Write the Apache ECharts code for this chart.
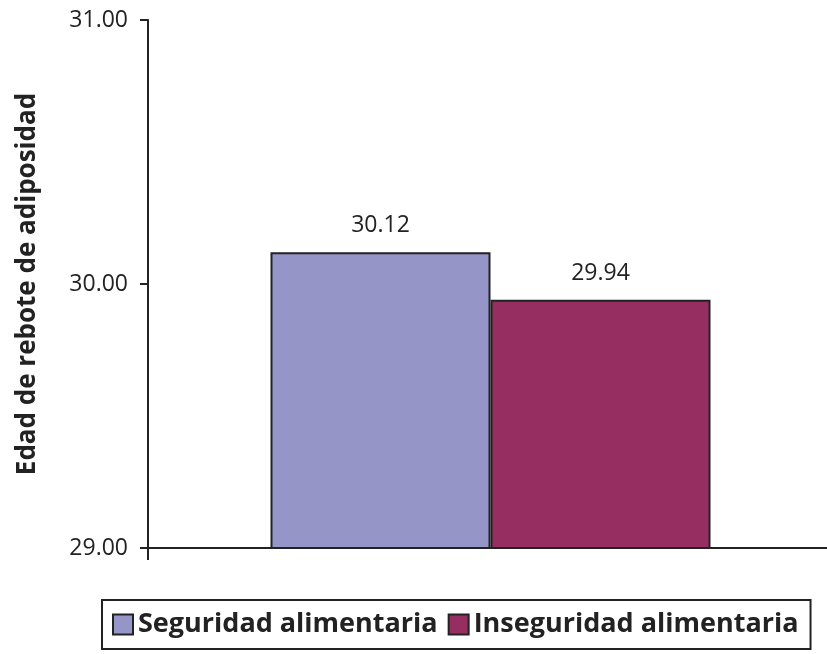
<!DOCTYPE html>
<html>
<head>
<meta charset="utf-8">
<script src="https://cdn.jsdelivr.net/npm/echarts@6/dist/echarts.min.js"></script>
<style>
  html, body { margin: 0; padding: 0; background: #fff; }
  #chart { width: 827px; height: 654px; }
</style>
</head>
<body>
<div id="chart"></div>
<script>
// Edad de rebote de adiposidad por condición de seguridad alimentaria
const categories = [''];
const seriesNames = ['Seguridad alimentaria', 'Inseguridad alimentaria'];
const seguridad = [30.12];
const inseguridad = [29.94];
const yTicks = [29, 30, 31];

const FONT = '"Open Sans", "Liberation Sans", sans-serif';
const INK = '#222222';

const chart = echarts.init(document.getElementById('chart'));

const labelOpt = {
  show: true,
  position: 'top',
  distance: 15,
  color: INK,
  fontFamily: FONT,
  fontSize: 23,
  formatter: p => p.value.toFixed(2)
};

chart.setOption({
  animation: false,
  grid: {
    left: 148, right: -6, top: 20, bottom: 106,
    containLabel: false,
    outerBoundsMode: 'none'
  },
  legend: {
    left: 102,
    top: 600,
    padding: [11, 12, 11, 10],
    itemGap: 10,
    itemWidth: 20,
    itemHeight: 20,
    icon: 'rect',
    borderColor: INK,
    borderWidth: 2,
    textStyle: { fontFamily: FONT, fontSize: 27, fontWeight: 'bold', color: INK },
    data: seriesNames
  },
  xAxis: {
    type: 'category',
    data: categories,
    axisLine: { lineStyle: { color: INK, width: 2 } },
    axisTick: { show: true, length: 12, lineStyle: { color: INK, width: 2 } },
    axisLabel: { show: false },
    splitLine: { show: false }
  },
  yAxis: {
    type: 'value',
    min: yTicks[0],
    max: yTicks[yTicks.length - 1],
    interval: 1,
    name: 'Edad de rebote de adiposidad',
    nameLocation: 'middle',
    nameGap: 107,
    nameTextStyle: { fontFamily: FONT, fontSize: 26, fontWeight: 'bold', color: INK },
    axisLine: { show: true, lineStyle: { color: INK, width: 2 } },
    axisTick: { show: true, length: 8, lineStyle: { color: INK, width: 2 } },
    axisLabel: {
      color: INK, fontFamily: FONT, fontSize: 23, margin: 20,
      formatter: v => v.toFixed(2)
    },
    splitLine: { show: false }
  },
  series: [
    {
      name: seriesNames[0],
      type: 'bar',
      data: seguridad,
      barWidth: 220,
      barGap: '0%',
      itemStyle: { color: '#9595C8', borderColor: INK, borderWidth: 2 },
      label: labelOpt
    },
    {
      name: seriesNames[1],
      type: 'bar',
      data: inseguridad,
      barWidth: 220,
      barGap: '0%',
      itemStyle: { color: '#962E62', borderColor: INK, borderWidth: 2 },
      label: labelOpt
    }
  ]
});
</script>
</body>
</html>
